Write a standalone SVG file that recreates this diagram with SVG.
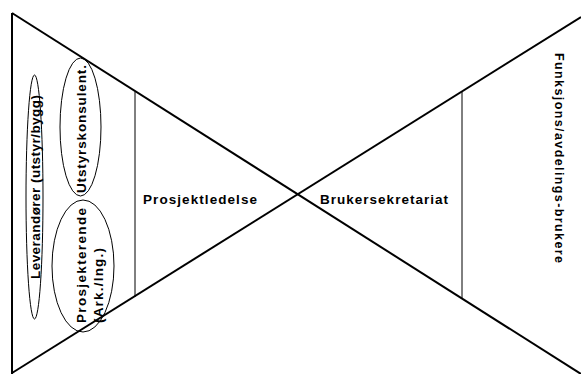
<svg xmlns="http://www.w3.org/2000/svg" width="581" height="374" viewBox="0 0 581 374">
<style>
.main{stroke:#000;stroke-width:2;fill:none}
.thin{stroke:#000;stroke-width:1;fill:none}
.ell{stroke:#000;stroke-width:1;fill:none}
text{font-family:"Liberation Sans",Arial,sans-serif;font-weight:bold;fill:#000}
.t13{font-size:13.5px}
.t12{font-size:12.5px}
</style>
<g id="connectors">
<line class="main" x1="12" y1="13" x2="12" y2="374"/>
<line class="main" x1="12" y1="13" x2="581" y2="374"/>
<line class="main" x1="12" y1="373" x2="581" y2="17"/>
<line class="thin" x1="135" y1="92" x2="135" y2="297"/>
<line class="thin" x1="462" y1="91" x2="462" y2="298"/>
</g>
<g id="leverandorer">
<ellipse class="ell" cx="34.5" cy="197" rx="8.5" ry="122"/>
<text class="t13" transform="translate(39.5,279) rotate(-90)" textLength="184" lengthAdjust="spacing">Leverandører (utstyr/bygg)</text>
</g>
<g id="utstyrskonsulent">
<ellipse class="ell" cx="80.5" cy="127" rx="20.5" ry="69"/>
<text class="t13" transform="translate(86,193) rotate(-90)" textLength="128" lengthAdjust="spacing">Utstyrskonsulent.</text>
</g>
<g id="prosjekterende">
<ellipse class="ell" cx="83" cy="266" rx="31" ry="66"/>
<text class="t13" transform="translate(86,323) rotate(-90)" textLength="115" lengthAdjust="spacing">Prosjekterende</text>
<text class="t13" transform="translate(103,323) rotate(-90)" textLength="75" lengthAdjust="spacing">(Ark./Ing.)</text>
</g>
<g id="prosjektledelse">
<text class="t13" x="143" y="204" textLength="114" lengthAdjust="spacing">Prosjektledelse</text>
</g>
<g id="brukersekretariat">
<text class="t13" x="320" y="204" textLength="128" lengthAdjust="spacing">Brukersekretariat</text>
</g>
<g id="funksjonsbrukere">
<text class="t12" transform="translate(554.5,53) rotate(90)" textLength="210" lengthAdjust="spacing">Funksjons/avdelings-brukere</text>
</g>
</svg>
